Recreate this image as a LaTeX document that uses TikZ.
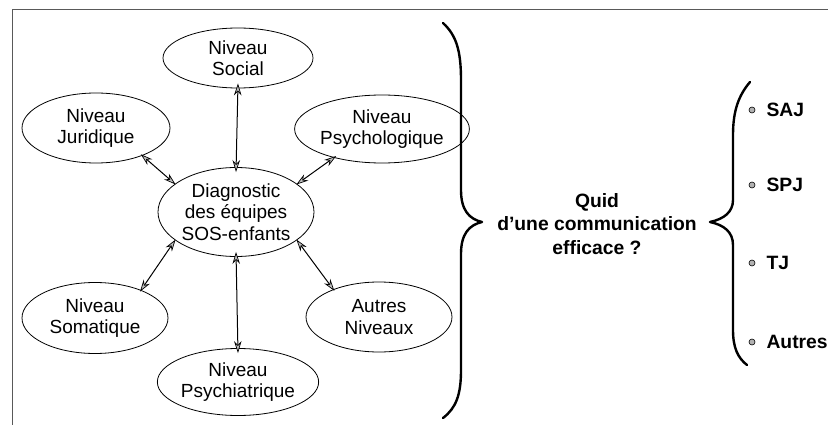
\documentclass[tikz,border=0pt]{standalone}
\usepackage{fontspec}
\setmainfont{Liberation Sans}
\usetikzlibrary{shapes.geometric,arrows.meta}
\begin{document}
\begin{tikzpicture}[x=1pt,y=-1pt,
  ell/.style={draw,ellipse,line width=0.8pt,inner sep=0pt,align=center,
    font=\fontsize{19}{21.5}\selectfont},
  tip/.style={Stealth[length=12pt,width=7.5pt,fill=gray!50,line width=0.7pt]},
  link/.style={line width=1pt,{Stealth[length=12pt,width=7.5pt,fill=gray!50,line width=0.7pt]}-{Stealth[length=12pt,width=7.5pt,fill=gray!50,line width=0.7pt]}},
  brace/.style={line width=2.4pt,line cap=round,line join=round},
  bold/.style={font=\bfseries\fontsize{19.3}{23.5}\selectfont,align=center},
  blt/.style={circle,draw,fill=gray!60,line width=0.6pt,inner sep=0pt,minimum size=6pt}]
\useasboundingbox (0,0) rectangle (828,425);
% frame
\draw[line width=1pt,gray!70!black] (828,10) -- (12,10) -- (12,425);
% ellipses
\node[ell,minimum width=150pt,minimum height=60pt] (soc) at (238,58) {Niveau\\Social};
\node[ell,minimum width=148pt,minimum height=70pt] (jur) at (96,128) {Niveau\\Juridique};
\node[ell,minimum width=145pt,minimum height=68pt] (psy) at (382,129) {Niveau\\Psychologique};
\node[ell,minimum width=156pt,minimum height=89pt] (dia) at (236,212) {Diagnostic\\des équipes\\SOS-enfants};
\node[ell,minimum width=146pt,minimum height=71pt] (som) at (95,318) {Niveau\\Somatique};
\node[ell,minimum width=146pt,minimum height=70pt] (aut) at (379,317) {Autres\\Niveaux};
\node[ell,minimum width=144pt,minimum height=67pt] (pst) at (238,382) {Niveau\\Psychiatrique};
% links
\draw[link] ([yshift=5pt]soc.south) -- ([yshift=-5pt]dia.north);
\draw[link] ([yshift=-5pt]pst.north) -- ([yshift=5pt]dia.south);
\draw[link] ([shift={(3pt,3pt)}]jur.-35) -- ([shift={(-3pt,-3pt)}]dia.152);
\draw[link] ([shift={(-3pt,3pt)}]psy.-145) -- ([shift={(3pt,-3pt)}]dia.28);
\draw[link] ([shift={(3pt,-3pt)}]som.35) -- ([shift={(-3pt,3pt)}]dia.-152);
\draw[link] ([shift={(-3pt,-3pt)}]aut.145) -- ([shift={(3pt,3pt)}]dia.-28);
% big brace
\draw[brace] (443,23) .. controls (456,35) and (461,50) .. (461,80) -- (461,190)
  .. controls (461,210) and (469,219) .. (482,222)
  .. controls (469,225) and (461,234) .. (461,254) -- (461,370)
  .. controls (461,395) and (456,408) .. (443,418);
\node[bold] (quid) at (597,224) {Quid\\d’une communication\\efficace ?};
% small brace
\draw[brace] (750,82) .. controls (739,95) and (733,110) .. (733,135) -- (733,200)
  .. controls (733,212) and (724,219) .. (710,222)
  .. controls (724,225) and (733,232) .. (733,245) -- (733,330)
  .. controls (733,348) and (738,358) .. (747,365);
% bullets
\node[blt] (b1) at (752,110) {};
\node[blt] (b2) at (752,185) {};
\node[blt] (b3) at (752,263) {};
\node[blt] (b4) at (752,342) {};
\node[bold,anchor=west] (saj) at (763,110) {SAJ};
\node[bold,anchor=west] (spj) at (763,185) {SPJ};
\node[bold,anchor=west] (tj) at (763,263) {TJ};
\node[bold,anchor=west] (aut2) at (763,342) {Autres};
\end{tikzpicture}
\end{document}
